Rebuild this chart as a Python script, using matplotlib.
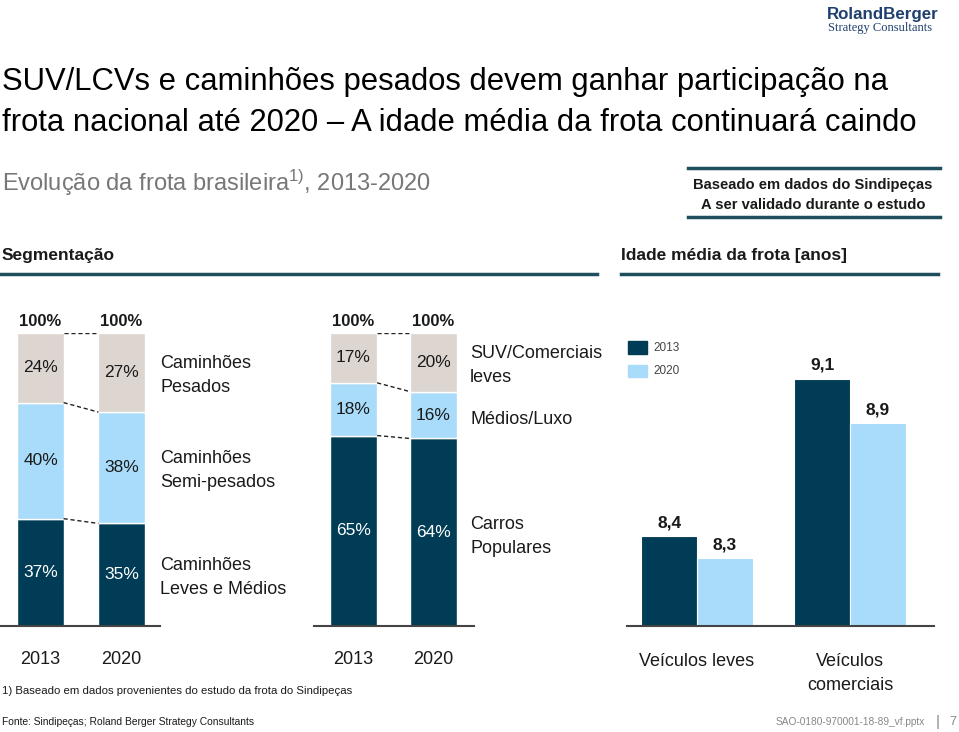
import numpy as np
import matplotlib
matplotlib.use('Agg')
import matplotlib.pyplot as plt
from matplotlib.lines import Line2D
from matplotlib.patches import Rectangle

# DADOS
anos = ['2013', '2020']
cam_leves = [37, 35]
cam_semi = [40, 38]
cam_pesados = [24, 27]
carros_populares = [65, 64]
medios_luxo = [18, 16]
suv_comerciais = [17, 20]
idade_cats = ['Veículos leves', 'Veículos\ncomerciais']
idade_2013 = [8.4, 9.1]
idade_2020 = [8.3, 8.9]

# CORES
azul_escuro = '#003c55'
azul_claro = '#a8dcfa'
bege = '#ddd5d0'
linha_cab = '#1f4e5f'
texto = '#1a1a1a'

plt.rcParams['font.family'] = ['Liberation Sans', 'DejaVu Sans']
plt.rcParams['mathtext.fontset'] = 'custom'
plt.rcParams['mathtext.rm'] = 'Liberation Sans'

W, H = 959, 732
fig = plt.figure(figsize=(W / 100, H / 100), dpi=100)


def px(x, y):
    return x / W, 1 - y / H


def eixo(x0, x1, y0, y1):
    ax = fig.add_axes([x0 / W, 1 - y1 / H, (x1 - x0) / W, (y1 - y0) / H])
    for s in ['top', 'right', 'left']:
        ax.spines[s].set_visible(False)
    ax.spines['bottom'].set_color('#444444')
    ax.spines['bottom'].set_linewidth(1.5)
    ax.set_xticks([])
    ax.set_yticks([])
    ax.patch.set_alpha(0)
    return ax


def linha_fig(x0, x1, y, cor, lw):
    fig.add_artist(Line2D([x0 / W, x1 / W], [1 - y / H, 1 - y / H],
                          color=cor, lw=lw, transform=fig.transFigure))


# TÍTULO
fig.text(*px(2, 90), 'SUV/LCVs e caminhões pesados devem ganhar participação na',
         fontsize=22.3, color='black', va='baseline')
fig.text(*px(2, 131), 'frota nacional até 2020 – A idade média da frota continuará caindo',
         fontsize=22.3, color='black', va='baseline')
fig.text(*px(2, 191), r'Evolução da frota brasileira$\mathregular{^{1)}}$, 2013-2020',
         fontsize=17, color='#777777', va='baseline')

# LOGO
fig.text(*px(883, 19), 'RolandBerger', fontsize=12.2, fontweight='bold',
         color='#1f3f6e', ha='center', va='baseline')
fig.text(*px(880, 31), 'Strategy Consultants', fontsize=9, family='Liberation Serif',
         color='#1f3f6e', ha='center', va='baseline')

# CAIXA
linha_fig(688, 940, 168, linha_cab, 2.5)
linha_fig(688, 940, 217, linha_cab, 2.5)
fig.text(*px(813, 185), 'Baseado em dados do Sindipeças', fontsize=10.6,
         fontweight='bold', color=texto, ha='center', va='center')
fig.text(*px(813, 205), 'A ser validado durante o estudo', fontsize=10.6,
         fontweight='bold', color=texto, ha='center', va='center')

# CABEÇALHOS
fig.text(*px(2, 256), 'Segmentação', fontsize=12.5, fontweight='bold',
         color=texto, va='center')
fig.text(*px(621, 256), 'Idade média da frota [anos]', fontsize=12.5, fontweight='bold',
         color=texto, va='center')
linha_fig(0, 597, 274, linha_cab, 2.5)
linha_fig(621, 938, 274, linha_cab, 2.5)


def barras_empilhadas(ax, series, cores, cores_txt, largura):
    x = np.arange(len(anos))
    total = np.sum(series, axis=0)
    base = np.zeros(len(anos))
    limites = []
    for vals, cor, ct in zip(series, cores, cores_txt):
        alt = np.array(vals) / total * 100
        ax.bar(x, alt, largura, bottom=base, color=cor, edgecolor='white', linewidth=1)
        for xi, b, a, v in zip(x, base, alt, vals):
            ax.text(xi, b + a / 2, f'{v}%', ha='center', va='center',
                    fontsize=12.5, color=ct)
        base = base + alt
        limites.append(base.copy())
    for lim in limites:
        ax.plot([x[0] + largura / 2, x[1] - largura / 2], [lim[0], lim[1]],
                ls=(0, (3, 2)), color='#222222', lw=1)
    for xi in x:
        ax.text(xi, 101.5, '100%', ha='center', va='bottom', fontsize=12,
                fontweight='bold', color=texto)
        ax.text(xi, -11.6, anos[xi], ha='center', va='center', fontsize=13, color=texto,
                clip_on=False)
    ax.set_ylim(0, 100)


# CAMINHÕES
ax1 = eixo(0, 160, 333, 626)
barras_empilhadas(ax1, [cam_leves, cam_semi, cam_pesados],
                  [azul_escuro, azul_claro, bege], ['white', texto, texto], 0.57)
ax1.set_xlim(-0.5, 1.475)
fig.text(*px(160, 375.5), 'Caminhões\nPesados', fontsize=13, color=texto,
         va='center', linespacing=1.55)
fig.text(*px(160, 470.5), 'Caminhões\nSemi-pesados', fontsize=13, color=texto,
         va='center', linespacing=1.55)
fig.text(*px(160, 577.5), 'Caminhões\nLeves e Médios', fontsize=13, color=texto,
         va='center', linespacing=1.55)

# CARROS
ax2 = eixo(314, 474, 333, 626)
barras_empilhadas(ax2, [carros_populares, medios_luxo, suv_comerciais],
                  [azul_escuro, azul_claro, bege], ['white', texto, texto], 0.59)
ax2.set_xlim(-0.494, 1.506)
fig.text(*px(470, 365.5), 'SUV/Comerciais\nleves', fontsize=13, color=texto,
         va='center', linespacing=1.55)
fig.text(*px(470, 419), 'Médios/Luxo', fontsize=13, color=texto, va='center')
fig.text(*px(470, 536.5), 'Carros\nPopulares', fontsize=13, color=texto,
         va='center', linespacing=1.55)

# IDADE MÉDIA
ax3 = eixo(627, 934, 333, 626)
xg = np.arange(len(idade_cats))
lb = 0.366
ax3.bar(xg - lb / 2, idade_2013, lb, color=azul_escuro, edgecolor='white', linewidth=0.8)
ax3.bar(xg + lb / 2, idade_2020, lb, color=azul_claro, edgecolor='white', linewidth=0.8)
ax3.set_xlim(-0.458, 1.549)
ax3.set_ylim(8.0, 8.0 + 293 / 225)
for xi, v1, v2 in zip(xg, idade_2013, idade_2020):
    ax3.text(xi - lb / 2, v1 + 0.025, f'{v1:.1f}'.replace('.', ','), ha='center',
             va='bottom', fontsize=12.5, fontweight='bold', color=texto)
    ax3.text(xi + lb / 2, v2 + 0.025, f'{v2:.1f}'.replace('.', ','), ha='center',
             va='bottom', fontsize=12.5, fontweight='bold', color=texto)
for xi, c in zip(xg, idade_cats):
    ax3.text(xi, 8.0 - 27 / 225, c, ha='center', va='top', fontsize=13, color=texto,
             linespacing=1.55, clip_on=False)

# LEGENDA
fig.add_artist(Rectangle(px(628, 354), 19 / W, 13 / H, color=azul_escuro,
                         transform=fig.transFigure))
fig.add_artist(Rectangle(px(628, 377), 19 / W, 12 / H, color=azul_claro,
                         transform=fig.transFigure))
fig.text(*px(653, 348), '2013', fontsize=8.5, color='#444444', va='center')
fig.text(*px(653, 371), '2020', fontsize=8.5, color='#444444', va='center')

# RODAPÉ
fig.text(*px(2, 691), '1) Baseado em dados provenientes do estudo da frota do Sindipeças',
         fontsize=8.2, color=texto, va='center')
fig.text(*px(2, 722), 'Fonte: Sindipeças; Roland Berger Strategy Consultants',
         fontsize=7.4, color=texto, va='center')
fig.text(*px(925, 722), 'SAO-0180-970001-18-89_vf.pptx', fontsize=7.3, color='#888888',
         ha='right', va='center')
fig.text(*px(938, 722), '|', fontsize=11, color='#888888', ha='center', va='center')
fig.text(*px(953, 722), '7', fontsize=9, color='#888888', ha='center', va='center')

fig.savefig('out.png', dpi=100)
